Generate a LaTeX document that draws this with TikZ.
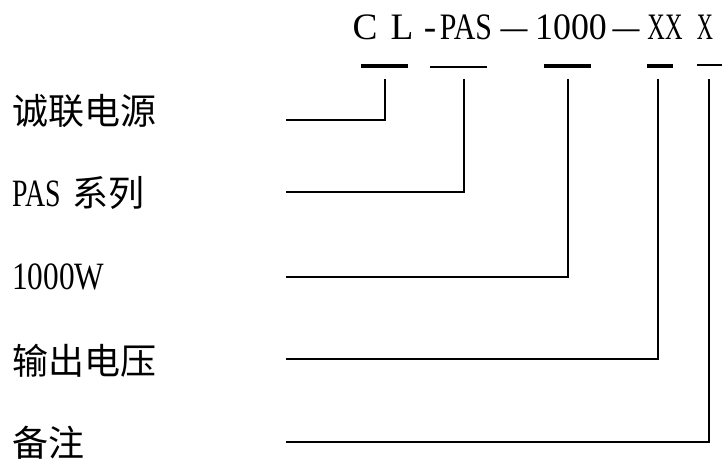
\documentclass[tikz,border=0pt]{standalone}
\usepackage{graphicx}
\usepackage{fontspec}
\setmainfont{Liberation Serif}
\newfontfamily\cjk{Noto Sans CJK SC}
\begin{document}
\begin{tikzpicture}[x=0.75pt,y=-0.75pt,
  bigfont/.style={font=\fontsize{27}{30}\selectfont},
  lbl/.style={anchor=base west, inner sep=0pt, bigfont},
  latlbl/.style={anchor=base west, inner sep=0pt, font=\fontsize{29}{32}\selectfont},
  cjklbl/.style={lbl, font=\fontsize{27}{30}\selectfont\cjk},
  code/.style={anchor=base, inner sep=0pt, font=\fontsize{28}{30}\selectfont},
  conn/.style={line width=1.5pt, line join=miter},
  ulthick/.style={line width=2.4pt},
  ulthin/.style={line width=1.3pt}]
\useasboundingbox (0,0) rectangle (722,459);
% code text
\node[code] (cC) at (365,40) {C};
\node[code] (cL) at (402,40) {L};
\node[code] (cd1) at (430,40) {-};
\node[code] (cPAS) at (466,40) {\scalebox{0.8}[1]{PAS}};
\node[code] (cd2) at (514,40) {\scalebox{0.72}[1]{—}};
\node[code] (c1000) at (571,40) {\scalebox{0.96}[1]{1000}};
\node[code] (cd3) at (626,40) {\scalebox{0.72}[1]{—}};
\node[code] (cXX) at (665,40) {\scalebox{0.65}[1]{XX}};
\node[code] (cX) at (705,40) {\scalebox{0.6}[1]{X}};
% underlines
\draw[ulthick] (361,66) -- (408,66);
\draw[ulthin] (430,67) -- (487,67);
\draw[ulthick] (544,66) -- (591,66);
\draw[ulthick] (647,66) -- (673,66);
\draw[ulthin] (697,65) -- (722,65);
% labels
\node[cjklbl] (l1) at (12,125) {诚联电源};
\node[latlbl] (l2) at (12,207) {\scalebox{0.72}[1]{PAS}\hspace{9pt}{\fontsize{27}{30}\selectfont\cjk 系列}};
\node[latlbl] (l3) at (12,290) {\scalebox{0.81}[1]{1000W}};
\node[cjklbl] (l4) at (12,375) {输出电压};
\node[cjklbl] (l5) at (12,457) {备注};
% connectors
\coordinate (t1) at (385,79); \coordinate (s1) at (286,120);
\coordinate (t2) at (464,79); \coordinate (s2) at (286,192);
\coordinate (t3) at (568,79); \coordinate (s3) at (286,277);
\coordinate (t4) at (658,79); \coordinate (s4) at (286,359);
\coordinate (t5) at (709,79); \coordinate (s5) at (286,442);
\draw[conn] (t1) |- (s1);
\draw[conn] (t2) |- (s2);
\draw[conn] (t3) |- (s3);
\draw[conn] (t4) |- (s4);
\draw[conn] (t5) |- (s5);
\end{tikzpicture}
\end{document}
